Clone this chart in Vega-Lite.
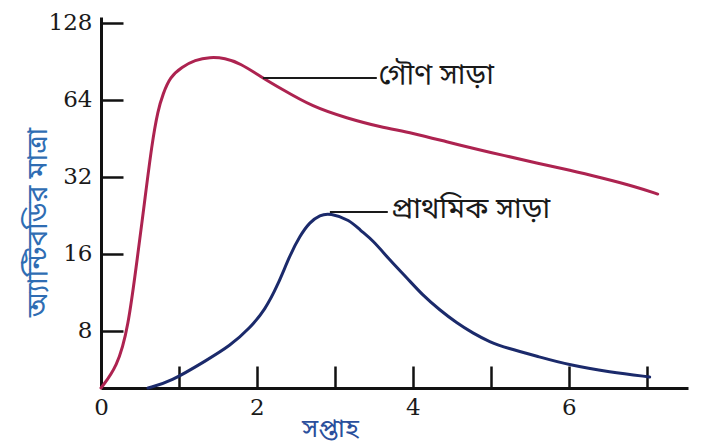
{
  "$schema": "https://vega.github.io/schema/vega-lite/v6.json",
  "width": 587,
  "height": 371,
  "autosize": "none",
  "padding": {"left": 101, "top": 17, "right": 16, "bottom": 58},
  "background": "white",
  "config": {
    "view": {"stroke": null},
    "axis": {"grid": false}
  },
  "datasets": {
    "curves": [
      {"series": "secondary", "week": 0.0, "level": 4.78},
      {"series": "secondary", "week": 0.205, "level": 5.77},
      {"series": "secondary", "week": 0.346, "level": 8.06},
      {"series": "secondary", "week": 0.474, "level": 16.1},
      {"series": "secondary", "week": 0.551, "level": 24.4},
      {"series": "secondary", "week": 0.654, "level": 43.4},
      {"series": "secondary", "week": 0.731, "level": 58.4},
      {"series": "secondary", "week": 0.795, "level": 67.4},
      {"series": "secondary", "week": 0.885, "level": 78.6},
      {"series": "secondary", "week": 1.038, "level": 86.0},
      {"series": "secondary", "week": 1.205, "level": 91.6},
      {"series": "secondary", "week": 1.397, "level": 94.1},
      {"series": "secondary", "week": 1.59, "level": 93.2},
      {"series": "secondary", "week": 1.782, "level": 89.1},
      {"series": "secondary", "week": 2.077, "level": 77.9},
      {"series": "secondary", "week": 2.295, "level": 71.2},
      {"series": "secondary", "week": 2.718, "level": 60.0},
      {"series": "secondary", "week": 3.154, "level": 54.3},
      {"series": "secondary", "week": 3.577, "level": 50.1},
      {"series": "secondary", "week": 4.0, "level": 47.5},
      {"series": "secondary", "week": 4.436, "level": 43.8},
      {"series": "secondary", "week": 4.859, "level": 40.7},
      {"series": "secondary", "week": 5.154, "level": 38.9},
      {"series": "secondary", "week": 5.59, "level": 36.2},
      {"series": "secondary", "week": 6.013, "level": 34.0},
      {"series": "secondary", "week": 6.436, "level": 31.6},
      {"series": "secondary", "week": 6.872, "level": 29.2},
      {"series": "secondary", "week": 7.141, "level": 27.4},
      {"series": "primary", "week": 0.603, "level": 4.78},
      {"series": "primary", "week": 0.885, "level": 5.04},
      {"series": "primary", "week": 1.359, "level": 6.15},
      {"series": "primary", "week": 1.654, "level": 6.98},
      {"series": "primary", "week": 1.91, "level": 8.2},
      {"series": "primary", "week": 2.103, "level": 9.65},
      {"series": "primary", "week": 2.269, "level": 12.08},
      {"series": "primary", "week": 2.423, "level": 15.8},
      {"series": "primary", "week": 2.551, "level": 18.8},
      {"series": "primary", "week": 2.679, "level": 21.3},
      {"series": "primary", "week": 2.808, "level": 22.7},
      {"series": "primary", "week": 2.936, "level": 23.1},
      {"series": "primary", "week": 3.192, "level": 21.7},
      {"series": "primary", "week": 3.321, "level": 19.8},
      {"series": "primary", "week": 3.487, "level": 18.1},
      {"series": "primary", "week": 3.705, "level": 15.1},
      {"series": "primary", "week": 3.923, "level": 12.9},
      {"series": "primary", "week": 4.128, "level": 11.0},
      {"series": "primary", "week": 4.346, "level": 9.65},
      {"series": "primary", "week": 4.564, "level": 8.58},
      {"series": "primary", "week": 4.769, "level": 7.84},
      {"series": "primary", "week": 4.987, "level": 7.23},
      {"series": "primary", "week": 5.205, "level": 6.85},
      {"series": "primary", "week": 5.628, "level": 6.32},
      {"series": "primary", "week": 6.0, "level": 5.88},
      {"series": "primary", "week": 6.526, "level": 5.52},
      {"series": "primary", "week": 7.038, "level": 5.28}
    ],
    "leaders": [
      {"series": "secondary", "from": 2.077, "to": 3.538, "level": 77.9},
      {"series": "primary", "from": 2.936, "to": 3.679, "level": 23.3}
    ],
    "labels": [
      {"label": "গৌণ সাড়া", "week": 3.56, "level": 80.0},
      {"label": "প্রাথমিক সাড়া", "week": 3.72, "level": 23.9}
    ]
  },
  "layer": [
    {
      "data": {"name": "curves"},
      "mark": {"type": "line", "interpolate": "basis", "strokeWidth": 3, "strokeCap": "round"},
      "encoding": {
        "x": {
          "field": "week",
          "type": "quantitative",
          "scale": {"domain": [0, 7.53], "nice": false, "zero": false},
          "axis": {
            "values": [0, 1, 2, 3, 4, 5, 6, 7],
            "format": "d",
            "labelExpr": "datum.value % 2 == 0 ? datum.label : ''",
            "labelFlush": false,
            "domainColor": "#111111",
            "domainWidth": 3,
            "tickColor": "#111111",
            "tickWidth": 2.5,
            "tickSize": -22,
            "labelPadding": 30,
            "labelFont": "DejaVu Serif",
            "labelFontSize": 23,
            "labelColor": "#1a1a1a",
            "title": "সপ্তাহ",
            "titleFont": "Noto Sans Bengali, Noto Sans, sans-serif",
            "titleFontSize": 26,
            "titleFontWeight": "normal",
            "titleColor": "#2a4f9c",
            "titleX": 229,
            "titleY": 40,
            "titleAlign": "center",
            "titleBaseline": "middle"
          }
        },
        "y": {
          "field": "level",
          "type": "quantitative",
          "scale": {"type": "log", "base": 2, "domain": [4.78, 134.9], "nice": false, "zero": false},
          "axis": {
            "values": [8, 16, 32, 64, 128],
            "domainColor": "#111111",
            "domainWidth": 3,
            "tickColor": "#111111",
            "tickWidth": 2.5,
            "tickSize": -22,
            "labelPadding": 31,
            "labelFont": "DejaVu Serif",
            "labelFontSize": 23,
            "labelColor": "#1a1a1a",
            "title": "অ্যান্টিবডির মাত্রা",
            "titleFont": "Noto Sans Bengali, Noto Sans, sans-serif",
            "titleFontSize": 28,
            "titleFontWeight": "normal",
            "titleColor": "#2f6db3",
            "titleAngle": -90,
            "titleX": -63,
            "titleY": 205,
            "titleAlign": "center",
            "titleBaseline": "middle"
          }
        },
        "color": {
          "field": "series",
          "type": "nominal",
          "scale": {"domain": ["secondary", "primary"], "range": ["#ad2350", "#1b2a6b"]},
          "legend": null
        }
      }
    },
    {
      "data": {"name": "leaders"},
      "mark": {"type": "rule", "color": "#1a1a1a", "strokeWidth": 2},
      "encoding": {
        "x": {"field": "from", "type": "quantitative"},
        "x2": {"field": "to"},
        "y": {"field": "level", "type": "quantitative"}
      }
    },
    {
      "data": {"name": "labels"},
      "mark": {
        "type": "text",
        "align": "left",
        "baseline": "middle",
        "font": "Noto Sans Bengali, Noto Sans, sans-serif",
        "fontSize": 29,
        "color": "#1a1a1a"
      },
      "encoding": {
        "x": {"field": "week", "type": "quantitative"},
        "y": {"field": "level", "type": "quantitative"},
        "text": {"field": "label"}
      }
    }
  ]
}
